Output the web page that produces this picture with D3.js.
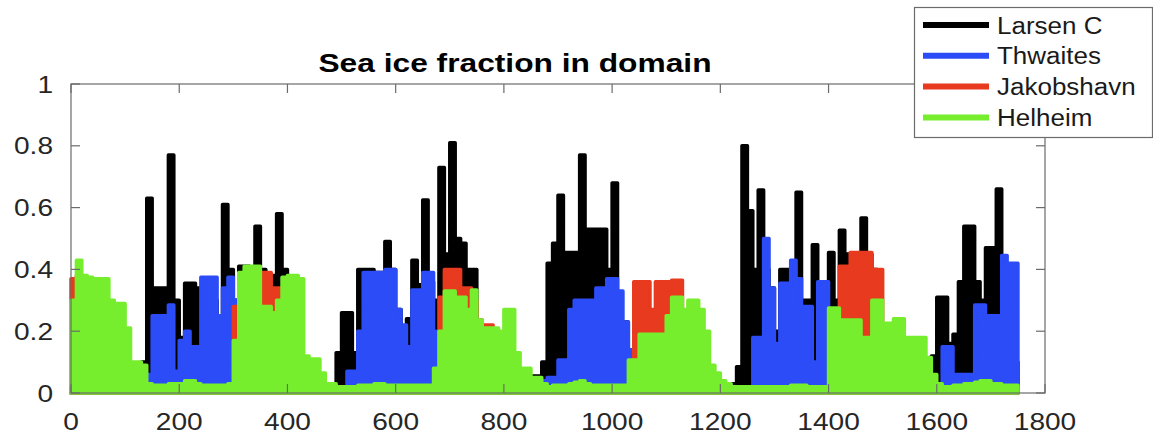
<!DOCTYPE html>
<html>
<head>
<meta charset="utf-8">
<script src="https://cdn.jsdelivr.net/npm/d3@7"></script>
<style>
  body { margin: 0; background: #fff; }
  text { font-family: "Liberation Sans", Arial, Helvetica, sans-serif; fill: #262626; }
</style>
</head>
<body>
<div id="chart"></div>
<script>
const WIDTH = 1153;
const HEIGHT = 442;

// sample grid, one value every 10 days
const days = d3.range(0, 1760, 10);

const seriesNames = ["Larsen C", "Thwaites", "Jakobshavn", "Helheim"];
const xTicks = [0, 200, 400, 600, 800, 1000, 1200, 1400, 1600, 1800];
const yTicks = [0, 0.2, 0.4, 0.6, 0.8, 1];

// envelope of each series
const larsenC = [
  .02,.02,.02,.02,.02,.02,.02,.02,.02,.02, .02,.02,.02,.10,.63,.34,.34,.34,.77,.30,
  .18,.355,.355,.34,.30,.30,.30,.24,.61,.40, .30,.41,.41,.35,.54,.40,.38,.38,.58,.40,
  .20,.02,.02,.02,.02,.02,.02,.02,.02,.13, .26,.26,.13,.40,.40,.40,.39,.39,.49,.40,
  .27,.15,.24,.43,.35,.625,.36,.30,.73,.45, .81,.50,.485,.40,.40,.10,.02,.02,.02,.02,
  .02,.02,.02,.02,.02,.055,.055,.10,.42,.485, .64,.455,.455,.455,.77,.53,.53,.53,.53,.40,
  .68,.23,.23,.10,.356,.356,.10,.02,.02,.02, .02,.02,.02,.02,.02,.02,.02,.02,.02,.02,
  .02,.02,.03,.085,.80,.59,.40,.657,.40,.34, .20,.40,.40,.40,.65,.30,.30,.48,.36,.30,
  .455,.30,.527,.45,.42,.45,.566,.45,.40,.02, .02,.02,.02,.02,.02,.02,.02,.02,.02,.12,
  .31,.31,.16,.19,.36,.54,.54,.36,.30,.47, .47,.66,.40,.40,.10,.02
];

const thwaites = [
  .01,.01,.01,.01,.01,.01,.01,.01,.01,.01, .01,.01,.01,.01,.06,.25,.25,.25,.285,.07,
  .17,.20,.15,.15,.375,.375,.375,.25,.34,.375, .30,.01,.01,.01,.01,.01,.01,.01,.01,.01,
  .01,.01,.01,.01,.01,.01,.01,.01,.01,.01, .02,.07,.07,.20,.39,.39,.39,.39,.40,.40,
  .27,.22,.15,.333,.333,.39,.39,.20,.02,.01, .01,.01,.01,.01,.01,.01,.01,.01,.01,.01,
  .01,.01,.01,.01,.01,.01,.01,.04,.05,.05, .107,.107,.27,.30,.30,.30,.30,.34,.34,.37,
  .37,.33,.23,.14,.01,.01,.01,.01,.01,.01, .01,.01,.01,.01,.01,.01,.01,.01,.01,.01,
  .01,.01,.01,.01,.01,.01,.18,.18,.50,.34, .16,.355,.355,.43,.37,.28,.28,.10,.36,.36,
  .02,.02,.02,.02,.02,.02,.02,.02,.02,.02, .02,.02,.02,.02,.02,.02,.02,.02,.02,.02,
  .02,.15,.15,.06,.06,.06,.06,.285,.285,.25, .25,.25,.445,.42,.42,.01
];

const jakobshavn = [
  .37,.38,.30,.015,.015,.015,.015,.015,.015,.015, .015,.015,.015,.015,.015,.015,.015,.015,.015,.015,
  .015,.015,.015,.015,.015,.015,.015,.015,.015,.015, .28,.015,.015,.015,.015,.39,.39,.34,.34,.30,
  .015,.015,.015,.015,.015,.015,.015,.015,.015,.015, .015,.015,.015,.015,.015,.015,.015,.015,.015,.015,
  .015,.015,.015,.015,.015,.015,.015,.015,.31,.40, .40,.40,.34,.34,.30,.236,.22,.22,.20,.13,
  .015,.015,.015,.015,.015,.015,.015,.015,.015,.015, .015,.015,.015,.015,.015,.015,.015,.015,.015,.015,
  .015,.015,.015,.015,.36,.36,.36,.27,.36,.36, .36,.365,.365,.10,.015,.015,.015,.015,.015,.015,
  .015,.015,.015,.015,.015,.015,.015,.015,.015,.015, .015,.015,.015,.015,.015,.015,.015,.015,.015,.015,
  .015,.015,.41,.41,.455,.455,.455,.455,.40,.40, .015,.015,.015,.015,.015,.015,.015,.015,.015,.015,
  .015,.015,.015,.015,.015,.015,.015,.015,.015,.015, .015,.015,.015,.015,.015,.015
];

const helheim = [
  .30,.43,.38,.375,.37,.37,.37,.30,.29,.29, .21,.10,.10,.09,.03,.025,.025,.025,.03,.03,
  .03,.04,.04,.03,.025,.025,.025,.025,.025,.03, .17,.39,.41,.41,.41,.28,.28,.26,.30,.375,
  .38,.38,.37,.12,.11,.11,.065,.03,.03,.02, .02,.02,.02,.025,.025,.025,.03,.03,.025,.025,
  .025,.025,.025,.025,.025,.025,.025,.08,.20,.33, .33,.31,.31,.27,.333,.236,.21,.21,.21,.20,
  .27,.27,.13,.08,.08,.05,.05,.03,.02,.025, .025,.025,.03,.035,.04,.03,.025,.025,.025,.025,
  .025,.025,.025,.107,.107,.19,.19,.19,.19,.19, .25,.31,.31,.27,.30,.30,.27,.20,.09,.065,
  .04,.03,.02,.02,.02,.02,.02,.02,.02,.02, .02,.02,.02,.025,.025,.025,.02,.02,.02,.02,
  .275,.275,.236,.236,.236,.236,.18,.18,.30,.30, .226,.226,.24,.24,.18,.18,.18,.18,.115,.06,
  .03,.02,.02,.025,.025,.03,.03,.035,.04,.04, .03,.03,.025,.025,.025,.02
];

const seriesColors = ["#000000", "#2b4cf6", "#e83a1e", "#76ee2e"];

let svg = d3.select("#chart")
    .append("svg")
    .attr("width", WIDTH)
    .attr("height", HEIGHT);

let x = d3.scaleLinear().domain([0, 1800]).range([71, 1045]);
let y = d3.scaleLinear().domain([0, 1]).range([393, 84]);

// text in the picture is a bit wider than the font, stretch it
function putText(sel, px, py, sx) {
    return sel.attr("x", 0).attr("y", 0)
        .attr("transform", `translate(${px},${py}) scale(${sx},1)`);
}

// series, drawn in order so green ends on top
let allSeries = [larsenC, thwaites, jakobshavn, helheim];

let area = d3.area()
    .curve(d3.curveStepAfter)
    .x((d, i) => x(days[i]))
    .y0(y(0))
    .y1(d => y(d));

svg.append("g")
    .selectAll("path")
    .data(allSeries)
    .enter()
    .append("path")
    .attr("d", d => area(d))
    .attr("fill", (d, i) => seriesColors[i])
    .attr("stroke", (d, i) => seriesColors[i])
    .attr("stroke-width", 3.5)
    .attr("stroke-linejoin", "round");

// axes box
svg.append("rect")
    .attr("x", 71)
    .attr("y", 84)
    .attr("width", 1045 - 71)
    .attr("height", 393 - 84)
    .attr("fill", "none")
    .attr("stroke", "#6b6b6b")
    .attr("stroke-width", 1.2);

let tickLen = 9;
let ticks = svg.append("g").attr("stroke", "#6b6b6b").attr("stroke-width", 1.2);

xTicks.forEach(t => {
    ticks.append("line").attr("x1", x(t)).attr("x2", x(t)).attr("y1", y(0)).attr("y2", y(0) - tickLen);
    ticks.append("line").attr("x1", x(t)).attr("x2", x(t)).attr("y1", y(1)).attr("y2", y(1) + tickLen);
});
yTicks.forEach(t => {
    ticks.append("line").attr("x1", x(0)).attr("x2", x(0) + tickLen).attr("y1", y(t)).attr("y2", y(t));
    ticks.append("line").attr("x1", x(1800)).attr("x2", x(1800) - tickLen).attr("y1", y(t)).attr("y2", y(t));
});

xTicks.forEach(t => {
    putText(svg.append("text"), x(t), 430, 1.17)
        .style("text-anchor", "middle")
        .style("font-size", "24px")
        .text(t);
});
yTicks.forEach(t => {
    putText(svg.append("text"), 53, y(t) + 8.5, 1.17)
        .style("text-anchor", "end")
        .style("font-size", "24px")
        .text(t);
});

// title
putText(svg.append("text"), 515, 72, 1.22)
    .style("text-anchor", "middle")
    .style("font-size", "26px")
    .style("font-weight", "bold")
    .style("fill", "#000")
    .text("Sea ice fraction in domain");

// legend
let legend = svg.append("g");
legend.append("rect")
    .attr("x", 914.5)
    .attr("y", 7.5)
    .attr("width", 238)
    .attr("height", 130)
    .attr("fill", "#fff")
    .attr("stroke", "#6b6b6b")
    .attr("stroke-width", 1.2);

seriesNames.forEach((name, i) => {
    let ry = 25 + i * 30.8;
    legend.append("line")
        .attr("x1", 923).attr("x2", 989)
        .attr("y1", ry).attr("y2", ry)
        .attr("stroke", seriesColors[i])
        .attr("stroke-width", 6);
    putText(legend.append("text"), 997, ry + 8.5, 1.13)
        .style("font-size", "23px")
        .style("fill", "#1a1a1a")
        .text(name);
});
</script>
</body>
</html>
